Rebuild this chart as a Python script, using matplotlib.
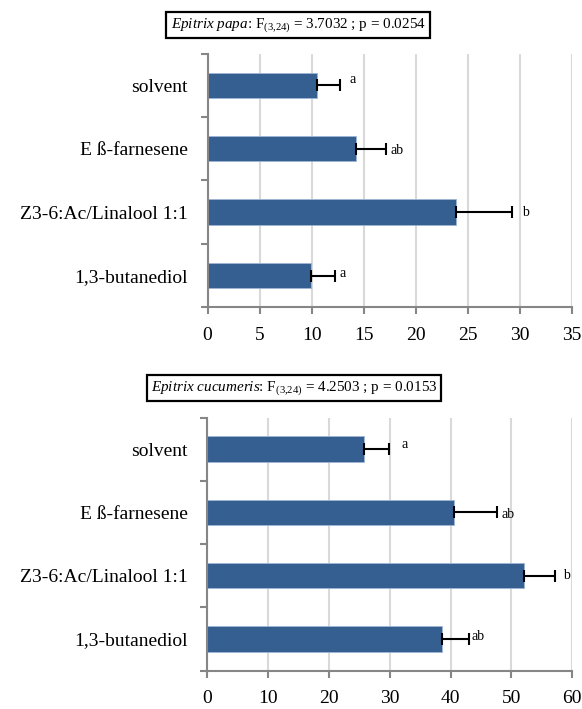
import matplotlib
matplotlib.use("Agg")
import matplotlib.pyplot as plt
import numpy as np

plt.rcParams['font.family'] = ['Liberation Serif', 'DejaVu Serif']
plt.rcParams['mathtext.fontset'] = 'custom'
plt.rcParams['mathtext.rm'] = 'Liberation Serif'
plt.rcParams['mathtext.it'] = 'Liberation Serif:italic'

categories = ["solvent", "E ß-farnesene", "Z3-6:Ac/Linalool 1:1", "1,3-butanediol"]

papa_means = [10.5, 14.3, 23.9, 9.9]
papa_errs = [2.25, 2.85, 5.35, 2.4]
papa_letters = ["a", "ab", "b", "a"]
papa_xticks = [0, 5, 10, 15, 20, 25, 30, 35]
papa_title = r"$\mathit{Epitrix\ papa}$: F$_{(3{,}24)}$ = 3.7032 ; p = 0.0254"

cuc_means = [25.8, 40.5, 52.0, 38.6]
cuc_errs = [4.15, 7.2, 5.2, 4.45]
cuc_letters = ["a", "ab", "b", "ab"]
cuc_xticks = [0, 10, 20, 30, 40, 50, 60]
cuc_title = r"$\mathit{Epitrix\ cucumeris}$: F$_{(3{,}24)}$ = 4.2503 ; p = 0.0153"

# letter offsets (points) relative to the error-bar end: (dx, dy)
papa_offsets = [(7, 4.3), (3.6, -1.4), (7, 0), (3.2, 1.4)]
cuc_offsets = [(8.6, 3.6), (3.2, -1.8), (5.8, 0), (1.8, 1.8)]

W, H = 582, 709
fig = plt.figure(figsize=(W / 100, H / 100), dpi=100)

BAR = '#365F91'
GRID = '#d9d9d9'
SPINE = '#868686'


def make_panel(rect, means, errs, letters, xticks, offsets):
    ax = fig.add_axes(rect)
    y = np.arange(len(categories))
    ax.set_axisbelow(True)
    ax.barh(y, means, height=0.4, color=BAR, edgecolor='#9fb6d6', linewidth=0.6, zorder=2)
    ax.errorbar(means, y, xerr=[np.zeros(len(errs)), errs], fmt='none', ecolor='black',
                elinewidth=1.5, capsize=4.5, capthick=1.5, zorder=3)
    for i, (m, e, lab) in enumerate(zip(means, errs, letters)):
        ax.annotate(lab, xy=(m + e, i), xytext=offsets[i], textcoords='offset points',
                    ha='left', va='center', fontsize=10)
    ax.set_xlim(xticks[0], xticks[-1])
    ax.set_ylim(3.5, -0.5)
    ax.set_xticks(xticks)
    ax.set_xticklabels([str(t) for t in xticks], fontsize=14)
    ax.set_yticks(y)
    ax.set_yticklabels(categories, fontsize=14)
    ax.set_yticks(np.arange(-0.5, 4, 1.0), minor=True)
    ax.tick_params(axis='y', which='major', length=0, pad=14)
    ax.tick_params(axis='y', which='minor', length=5, width=1.5, color=SPINE, direction='out')
    ax.tick_params(axis='x', which='major', length=5, width=1.5, color=SPINE, direction='out', pad=9)
    ax.grid(axis='x', color=GRID, linewidth=1.5, zorder=0)
    for s in ['top', 'right']:
        ax.spines[s].set_visible(False)
    for s in ['left', 'bottom']:
        ax.spines[s].set_color(SPINE)
        ax.spines[s].set_linewidth(1.5)
    return ax


make_panel([207.5 / W, 1 - 307.3 / H, (571.7 - 207.5) / W, (307.3 - 53.5) / H],
           papa_means, papa_errs, papa_letters, papa_xticks, papa_offsets)
make_panel([207.3 / W, 1 - 670.7 / H, (572.3 - 207.3) / W, (670.7 - 417.5) / H],
           cuc_means, cuc_errs, cuc_letters, cuc_xticks, cuc_offsets)

box = dict(boxstyle='square,pad=0.28', facecolor='white', edgecolor='black', linewidth=1.6)
fig.text(298 / W, 1 - 25 / H, papa_title, ha='center', va='center', fontsize=10.9, bbox=box)
fig.text(294 / W, 1 - 388 / H, cuc_title, ha='center', va='center', fontsize=10.9, bbox=box)

fig.savefig('out.png', dpi=100)
